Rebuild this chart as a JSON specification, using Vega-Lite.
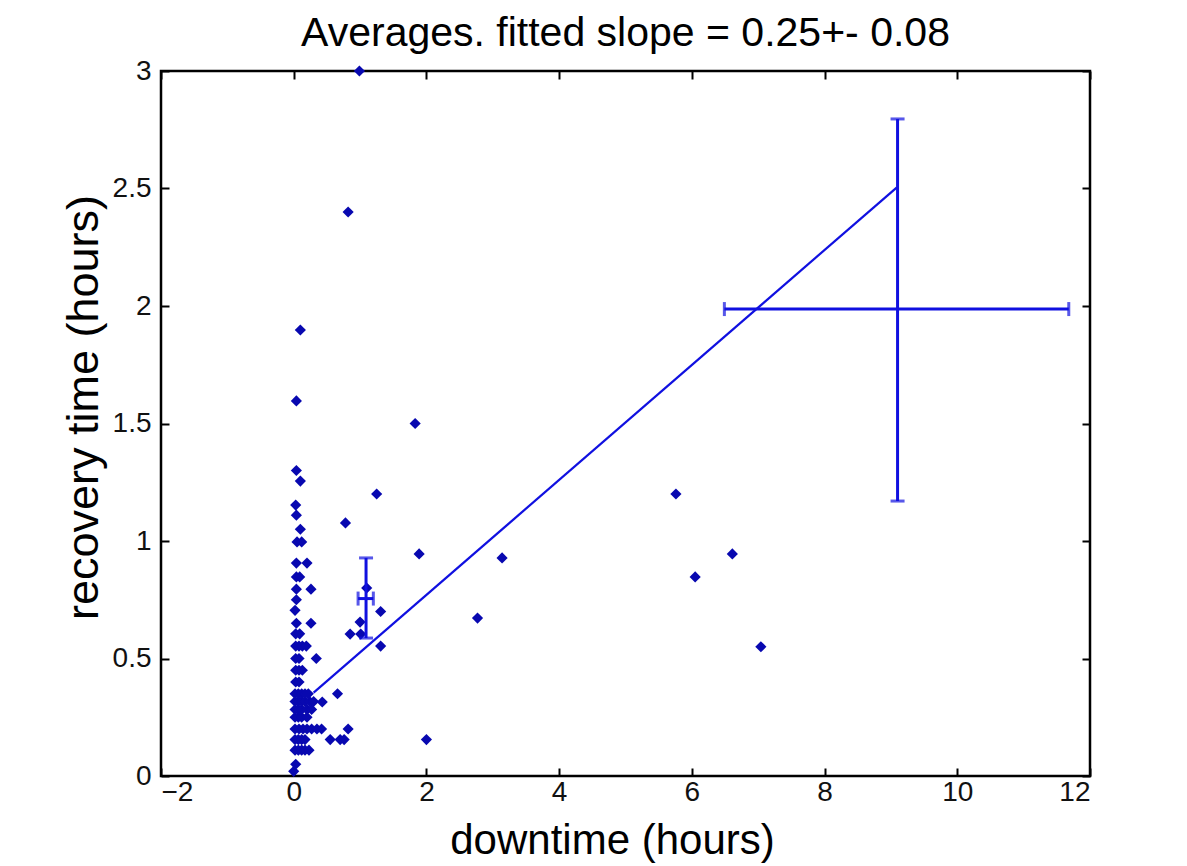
{
  "$schema": "https://vega.github.io/schema/vega-lite/v6.json",
  "width": 929,
  "height": 705,
  "autosize": "none",
  "padding": {"left": 161, "top": 71, "right": 97, "bottom": 90},
  "background": "white",
  "title": {"text": "Averages. fitted slope = 0.25+- 0.08", "font": "Liberation Sans", "fontSize": 41, "fontWeight": "normal", "color": "black", "anchor": "middle", "offset": 2},
  "config": {
    "view": {"stroke": "black", "strokeWidth": 2.5, "fill": "white"},
    "axis": {
      "grid": false,
      "domain": false,
      "offset": -8,
      "tickColor": "black",
      "tickWidth": 2,
      "tickSize": 8,
      "labelFont": "Liberation Sans",
      "labelFontSize": 28,
      "labelColor": "#111",
      "titleFont": "Liberation Sans",
      "titleFontSize": 42,
      "titleFontWeight": "normal",
      "titleColor": "black"
    }
  },
  "datasets": {
    "pts": [
      {"x": 0.0, "y": 0.02}, {"x": 0.03, "y": 0.05},
      {"x": 0.02, "y": 0.11}, {"x": 0.07, "y": 0.11}, {"x": 0.12, "y": 0.11}, {"x": 0.17, "y": 0.11}, {"x": 0.23, "y": 0.11},
      {"x": 0.02, "y": 0.155}, {"x": 0.07, "y": 0.155}, {"x": 0.12, "y": 0.155}, {"x": 0.17, "y": 0.155},
      {"x": 0.55, "y": 0.155}, {"x": 0.7, "y": 0.155}, {"x": 0.76, "y": 0.155}, {"x": 2.0, "y": 0.155},
      {"x": 0.02, "y": 0.2}, {"x": 0.08, "y": 0.2}, {"x": 0.14, "y": 0.2}, {"x": 0.2, "y": 0.2}, {"x": 0.27, "y": 0.2}, {"x": 0.35, "y": 0.2}, {"x": 0.42, "y": 0.2}, {"x": 0.82, "y": 0.2},
      {"x": 0.02, "y": 0.25}, {"x": 0.07, "y": 0.25}, {"x": 0.12, "y": 0.25}, {"x": 0.2, "y": 0.25},
      {"x": 0.02, "y": 0.283}, {"x": 0.07, "y": 0.283}, {"x": 0.12, "y": 0.283}, {"x": 0.2, "y": 0.283}, {"x": 0.27, "y": 0.283},
      {"x": 0.02, "y": 0.317}, {"x": 0.07, "y": 0.317}, {"x": 0.12, "y": 0.317}, {"x": 0.17, "y": 0.317}, {"x": 0.24, "y": 0.317}, {"x": 0.3, "y": 0.317}, {"x": 0.43, "y": 0.315},
      {"x": 0.02, "y": 0.35}, {"x": 0.07, "y": 0.35}, {"x": 0.12, "y": 0.35}, {"x": 0.17, "y": 0.35}, {"x": 0.22, "y": 0.35}, {"x": 0.66, "y": 0.35},
      {"x": 0.03, "y": 0.4}, {"x": 0.08, "y": 0.4},
      {"x": 0.03, "y": 0.45}, {"x": 0.08, "y": 0.45}, {"x": 0.13, "y": 0.45},
      {"x": 0.03, "y": 0.5}, {"x": 0.08, "y": 0.5}, {"x": 0.34, "y": 0.5},
      {"x": 0.03, "y": 0.553}, {"x": 0.08, "y": 0.553}, {"x": 0.13, "y": 0.553}, {"x": 0.19, "y": 0.553},
      {"x": 0.03, "y": 0.605}, {"x": 0.09, "y": 0.605},
      {"x": 0.04, "y": 0.65}, {"x": 0.26, "y": 0.65},
      {"x": 0.02, "y": 0.705},
      {"x": 0.04, "y": 0.75},
      {"x": 0.04, "y": 0.795}, {"x": 0.26, "y": 0.795},
      {"x": 0.04, "y": 0.847}, {"x": 0.09, "y": 0.847},
      {"x": 0.04, "y": 0.906}, {"x": 0.2, "y": 0.906},
      {"x": 0.05, "y": 0.996}, {"x": 0.12, "y": 0.996},
      {"x": 0.1, "y": 1.05},
      {"x": 0.04, "y": 1.11},
      {"x": 0.03, "y": 1.153},
      {"x": 0.1, "y": 1.255},
      {"x": 0.04, "y": 1.3},
      {"x": 0.04, "y": 1.596},
      {"x": 0.1, "y": 1.898},
      {"x": 0.82, "y": 2.4},
      {"x": 0.99, "y": 3.0},
      {"x": 1.83, "y": 1.5},
      {"x": 1.25, "y": 1.2},
      {"x": 0.78, "y": 1.077},
      {"x": 1.89, "y": 0.945},
      {"x": 3.14, "y": 0.928},
      {"x": 2.77, "y": 0.672},
      {"x": 5.76, "y": 1.2},
      {"x": 6.05, "y": 0.847},
      {"x": 6.61, "y": 0.945},
      {"x": 7.04, "y": 0.55},
      {"x": 1.1, "y": 0.8},
      {"x": 1.31, "y": 0.7},
      {"x": 1.0, "y": 0.655},
      {"x": 0.85, "y": 0.604},
      {"x": 1.01, "y": 0.604},
      {"x": 1.31, "y": 0.553}
    ],
    "fit": [{"x": 0.3, "y": 0.355}, {"x": 9.09, "y": 2.505}],
    "err": [
      {"x": 1.09, "y": 0.755, "ylo": 0.587, "yhi": 0.928, "xlo": 0.97, "xhi": 1.2},
      {"x": 9.1, "y": 1.987, "ylo": 1.17, "yhi": 2.796, "xlo": 6.49, "xhi": 11.68}
    ]
  },
  "layer": [
    {
      "data": {"name": "pts"},
      "mark": {"type": "point", "shape": "diamond", "filled": true, "size": 125, "color": "#0808b0", "opacity": 1},
      "encoding": {
        "x": {"field": "x", "type": "quantitative", "scale": {"domain": [-2, 12], "nice": false, "zero": false},
              "axis": {"orient": "bottom", "values": [-2, 0, 2, 4, 6, 8, 10, 12], "title": "downtime (hours)", "labelPadding": 2, "titlePadding": 14, "titleX": 451}},
        "y": {"field": "y", "type": "quantitative", "scale": {"domain": [0, 3], "nice": false, "zero": false},
              "axis": {"orient": "left", "values": [0, 0.5, 1, 1.5, 2, 2.5, 3], "format": ".1~f", "title": "recovery time (hours)", "titleFontSize": 45, "labelPadding": 10, "titlePadding": 6, "titleY": 336}}
      }
    },
    {
      "data": {"name": "fit"},
      "mark": {"type": "line", "color": "#1010e0", "strokeWidth": 2.2},
      "encoding": {
        "x": {"field": "x", "type": "quantitative", "axis": {"orient": "top", "values": [-2, 0, 2, 4, 6, 8, 10, 12], "labels": false, "title": null}},
        "y": {"field": "y", "type": "quantitative", "axis": {"orient": "right", "values": [0, 0.5, 1, 1.5, 2, 2.5, 3], "labels": false, "title": null}}
      }
    },
    {
      "data": {"name": "err"},
      "mark": {"type": "rule", "color": "#1010e0", "strokeWidth": 3},
      "encoding": {
        "x": {"field": "x", "type": "quantitative", "axis": null},
        "y": {"field": "ylo", "type": "quantitative", "axis": null},
        "y2": {"field": "yhi"}
      }
    },
    {
      "data": {"name": "err"},
      "mark": {"type": "rule", "color": "#1010e0", "strokeWidth": 3},
      "encoding": {
        "y": {"field": "y", "type": "quantitative", "axis": null},
        "x": {"field": "xlo", "type": "quantitative", "axis": null},
        "x2": {"field": "xhi"}
      }
    },
    {
      "data": {"name": "err"},
      "transform": [{"fold": ["ylo", "yhi"], "as": ["k", "v"]}],
      "mark": {"type": "tick", "orient": "horizontal", "color": "#1010e0", "size": 14, "thickness": 3},
      "encoding": {
        "x": {"field": "x", "type": "quantitative", "axis": null},
        "y": {"field": "v", "type": "quantitative", "axis": null}
      }
    },
    {
      "data": {"name": "err"},
      "transform": [{"fold": ["xlo", "xhi"], "as": ["k", "v"]}],
      "mark": {"type": "tick", "orient": "vertical", "color": "#1010e0", "size": 14, "thickness": 3},
      "encoding": {
        "x": {"field": "v", "type": "quantitative", "axis": null},
        "y": {"field": "y", "type": "quantitative", "axis": null}
      }
    }
  ],
  "resolve": {"axis": {"x": "independent", "y": "independent"}}
}
